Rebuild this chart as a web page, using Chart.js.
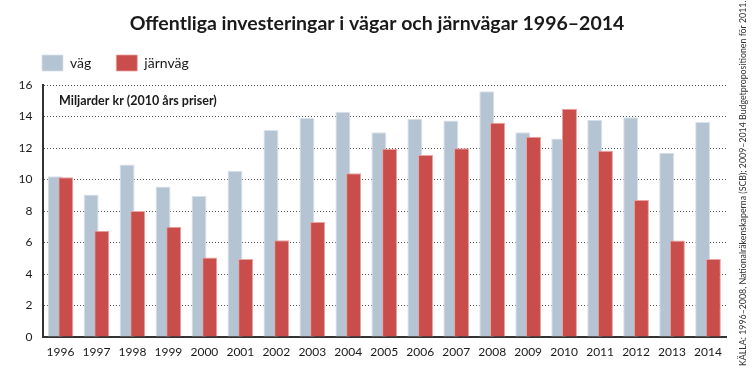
<!DOCTYPE html>
<html>
<head>
<meta charset="utf-8">
<script src="https://cdn.jsdelivr.net/npm/chart.js@4.4.1/dist/chart.umd.min.js"></script>
<style>
  html, body { margin: 0; padding: 0; background: #fff; }
  #wrap { width: 754px; height: 374px; position: relative; }
</style>
</head>
<body>
<div id="wrap"><canvas id="chart"></canvas></div>
<script>
// data
const years = ['1996', '1997', '1998', '1999', '2000', '2001', '2002', '2003', '2004', '2005',
               '2006', '2007', '2008', '2009', '2010', '2011', '2012', '2013', '2014'];
const vag = [10.2, 9.05, 10.95, 9.55, 8.95, 10.55, 13.15, 13.9, 14.3, 13.0,
             13.85, 13.75, 15.6, 13.0, 12.6, 13.8, 13.95, 11.7, 13.65];
const jarnvag = [10.15, 6.75, 8.0, 7.0, 5.05, 4.95, 6.15, 7.3, 10.4, 11.95,
                 11.55, 11.98, 13.6, 12.72, 14.5, 11.83, 8.7, 6.12, 4.95];
const yTicks = [0, 2, 4, 6, 8, 10, 12, 14, 16];

const titleText = 'Offentliga investeringar i vägar och järnvägar 1996–2014';
const unitText = 'Miljarder kr (2010 års priser)';
const sourceText = 'KÄLLA: 1996–2008, Nationalräkenskaperna (SCB); 2009–2014 Budgetpropositionen för 2011.';

const FONT = 'Lato, "Open Sans", sans-serif';

// red bars sit on top of the grey ones, so draw datasets in index order
const drawOrder = {
    id: 'drawOrder',
    beforeDatasetsDraw(chart) {
        chart.getSortedVisibleDatasetMetas().forEach(m => m.controller.draw());
        return false;
    }
};

// title, unit label inside the plot and the rotated source note on the right
const extraText = {
    id: 'extraText',
    afterDraw(chart) {
        const ctx = chart.ctx;
        const area = chart.chartArea;
        ctx.save();
        ctx.fillStyle = '#1a1a1a';
        ctx.textBaseline = 'middle';

        ctx.font = 'bold 19.5px ' + FONT;
        ctx.textAlign = 'center';
        ctx.fillText(titleText, 377, 24);

        ctx.font = 'bold 12.5px ' + FONT;
        ctx.textAlign = 'left';
        ctx.fillText(unitText, area.left + 16.5, area.top + 16);

        ctx.translate(743, 366);
        ctx.rotate(-Math.PI / 2);
        ctx.font = '8.8px ' + FONT;
        ctx.fillStyle = '#333';
        ctx.fillText(sourceText, 0, 0);
        ctx.restore();
    }
};

new Chart(document.getElementById('chart'), {
    type: 'bar',
    data: {
        labels: years,
        datasets: [
            {
                label: 'väg',
                data: vag,
                backgroundColor: '#b5c4d3',
                borderColor: '#d9e1ea',
                borderWidth: {top: 1, left: 1, right: 1, bottom: 0},
                categoryPercentage: 0.595,
                barPercentage: 1.4
            },
            {
                label: 'järnväg',
                data: jarnvag,
                backgroundColor: '#c94e4b',
                borderColor: '#e9a3a0',
                borderWidth: {top: 1, left: 1, right: 1, bottom: 0},
                categoryPercentage: 0.595,
                barPercentage: 1.4
            }
        ]
    },
    options: {
        responsive: true,
        maintainAspectRatio: false,
        animation: false,
        layout: { padding: { top: 30, left: 17, right: 28, bottom: 0 } },
        plugins: {
            title: { display: false },
            legend: {
                display: true,
                align: 'start',
                labels: {
                    boxWidth: 21,
                    boxHeight: 16,
                    padding: 25,
                    color: '#1a1a1a',
                    font: { family: FONT, size: 14 }
                }
            },
            // small empty spacer between legend and plot area
            subtitle: {
                display: true,
                text: '',
                weight: 500,
                font: { size: 4, lineHeight: 1 },
                padding: 0
            },
            tooltip: { enabled: false }
        },
        scales: {
            x: {
                grid: { display: false, drawTicks: false },
                border: { display: true, color: '#333', width: 2 },
                ticks: {
                    color: '#1a1a1a',
                    font: { family: FONT, size: 12 },
                    padding: 8,
                    maxRotation: 0,
                    autoSkip: false
                },
                afterFit(scale) { scale.height = 37; }
            },
            y: {
                min: 0,
                max: 16,
                afterBuildTicks(scale) { scale.ticks = yTicks.map(v => ({ value: v })); },
                grid: { color: '#555', lineWidth: 1, drawTicks: false },
                border: { display: true, color: '#333', width: 2, dash: [1, 2] },
                ticks: {
                    color: '#1a1a1a',
                    font: { family: FONT, size: 12 },
                    padding: 10
                },
                afterFit(scale) { scale.width = 25.5; }
            }
        }
    },
    plugins: [drawOrder, extraText]
});
</script>
</body>
</html>
